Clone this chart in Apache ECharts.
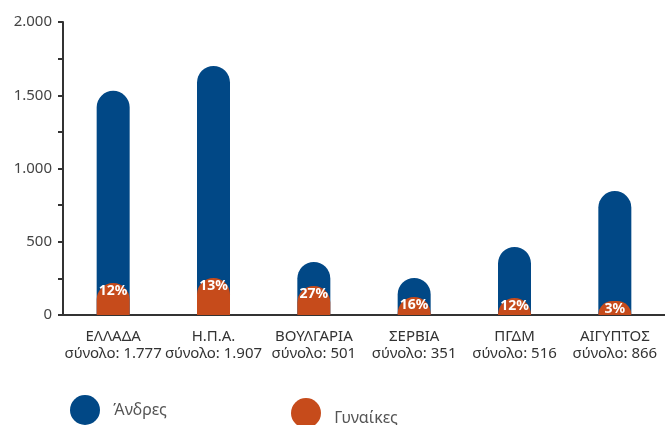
<!DOCTYPE html>
<html>
<head>
<meta charset="utf-8">
<script src="https://cdn.jsdelivr.net/npm/echarts@6/dist/echarts.min.js"></script>
<style>
  html, body { margin: 0; padding: 0; background: #fff; }
  #chart { width: 665px; height: 425px; }
</style>
</head>
<body>
<div id="chart"></div>
<script>
const countries = ['ΕΛΛΑΔΑ', 'Η.Π.Α.', 'ΒΟΥΛΓΑΡΙΑ', 'ΣΕΡΒΙΑ', 'ΠΓΔΜ', 'ΑΙΓΥΠΤΟΣ'];
const totals = [1777, 1907, 501, 351, 516, 866];
const men = [1530, 1700, 362, 253, 464, 846];
const women = [218, 253, 198, 123, 116, 96];
const womenPct = [12, 13, 27, 16, 12, 3];

const blue = '#014886';
const orange = '#c64b1b';
const font = 'Noto Sans';

function fmt(n) {
  return String(n).replace(/\B(?=(\d{3})+(?!\d))/g, '.');
}

const chart = echarts.init(document.getElementById('chart'));

chart.setOption({
  animation: false,
  textStyle: { fontFamily: font },
  grid: { left: 63, right: 0, top: 22, bottom: 110 },
  legend: [
    {
      data: [{ name: 'Άνδρες', icon: 'circle' }],
      left: 65, top: 390,
      itemWidth: 30, itemHeight: 30,
      formatter: '  {name}',
      textStyle: { fontSize: 16, color: '#555', fontFamily: font }
    },
    {
      data: [{ name: 'Γυναίκες', icon: 'circle' }],
      left: 286, top: 393,
      itemWidth: 30, itemHeight: 30,
      formatter: '{t|  {name}}',
      textStyle: {
        rich: { t: { fontSize: 16, color: '#555', fontFamily: font, padding: [10, 0, 0, 0] } }
      }
    }
  ],
  xAxis: {
    type: 'category',
    data: countries,
    axisLine: { lineStyle: { color: '#333', width: 2 } },
    axisTick: { show: false },
    axisLabel: {
      margin: 13,
      interval: 0,
      formatter: function (v, i) {
        return '{a|' + v + '}\n{b|σύνολο: ' + fmt(totals[i]) + '}';
      },
      rich: {
        a: { fontSize: 15, lineHeight: 17, color: '#333', fontFamily: font },
        b: { fontSize: 15, lineHeight: 17, color: '#333', fontFamily: font }
      }
    }
  },
  yAxis: {
    type: 'value',
    min: 0,
    max: 2000,
    interval: 500,
    axisLine: { show: true, lineStyle: { color: '#333', width: 2 } },
    axisTick: { show: true, length: 5, lineStyle: { color: '#333', width: 2 } },
    minorTick: { show: true, splitNumber: 2, length: 5, lineStyle: { color: '#333', width: 2 } },
    splitLine: { show: false },
    axisLabel: {
      margin: 11,
      fontSize: 15,
      color: '#444',
      formatter: function (v) { return fmt(v); }
    }
  },
  series: [
    {
      name: 'Άνδρες',
      type: 'bar',
      data: men,
      barWidth: 33,
      itemStyle: { color: blue, borderRadius: [16.5, 16.5, 0, 0] }
    },
    {
      name: 'Γυναίκες',
      type: 'bar',
      data: women,
      barWidth: 33,
      barGap: '-100%',
      z: 3,
      itemStyle: { color: orange, borderRadius: [16.5, 16.5, 0, 0] },
      label: {
        show: true,
        position: 'insideTop',
        distance: 1,
        color: '#fff',
        fontSize: 14,
        fontWeight: 'bold',
        fontFamily: font,
        formatter: function (p) { return womenPct[p.dataIndex] + '%'; }
      }
    }
  ]
});
</script>
</body>
</html>
